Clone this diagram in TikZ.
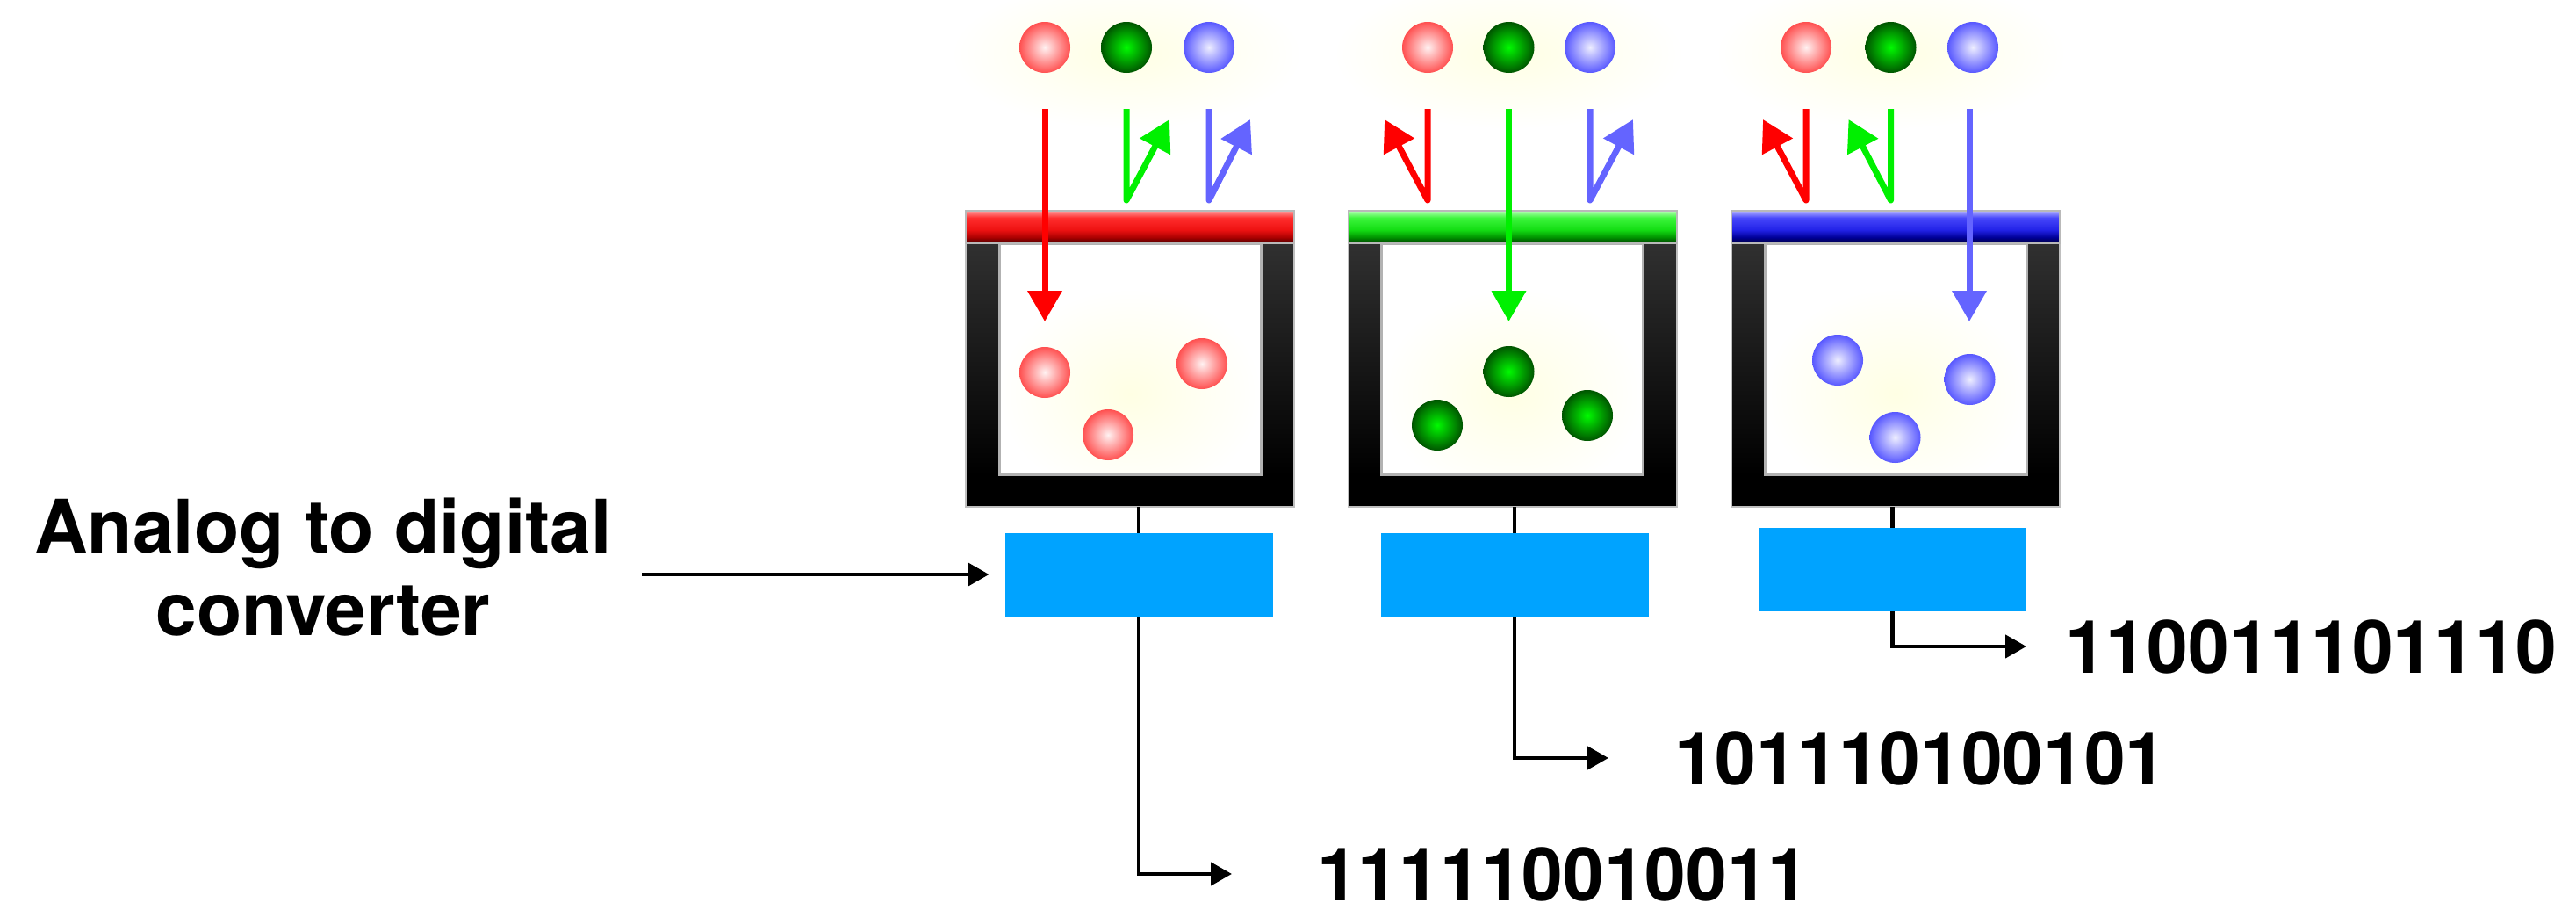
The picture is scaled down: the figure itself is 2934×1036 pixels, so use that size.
\documentclass[tikz,border=0pt]{standalone}
\usepackage{fontspec}
\setmainfont{TeX Gyre Heros}
\usetikzlibrary{arrows.meta,calc}

\definecolor{adcblue}{RGB}{0,163,255}
\definecolor{wallgray}{RGB}{48,48,48}
\definecolor{rayred}{RGB}{255,0,0}
\definecolor{raygreen}{RGB}{0,240,0}
\definecolor{rayblue}{RGB}{100,100,255}
\definecolor{glow}{RGB}{255,255,228}

% filter bars: dark lower edge, bright body, light upper edge
\definecolor{ra}{RGB}{70,0,0}\definecolor{rb}{RGB}{170,0,0}\definecolor{rc}{RGB}{238,18,18}
\definecolor{rd}{RGB}{255,45,45}\definecolor{re}{RGB}{255,150,150}
\definecolor{ga}{RGB}{0,60,0}\definecolor{gb}{RGB}{0,145,0}\definecolor{gc}{RGB}{20,222,20}
\definecolor{gd}{RGB}{60,245,60}\definecolor{ge}{RGB}{175,255,175}
\definecolor{ba}{RGB}{0,0,60}\definecolor{bb}{RGB}{0,0,150}\definecolor{bc}{RGB}{35,35,232}
\definecolor{bd}{RGB}{70,70,250}\definecolor{be}{RGB}{175,175,255}
\pgfdeclareverticalshading{barred}{100bp}{color(0bp)=(ra); color(25bp)=(ra); color(34bp)=(rb);
  color(46bp)=(rc); color(64bp)=(rd); color(75bp)=(re); color(100bp)=(re)}
\pgfdeclareverticalshading{bargreen}{100bp}{color(0bp)=(ga); color(25bp)=(ga); color(34bp)=(gb);
  color(46bp)=(gc); color(64bp)=(gd); color(75bp)=(ge); color(100bp)=(ge)}
\pgfdeclareverticalshading{barblue}{100bp}{color(0bp)=(ba); color(25bp)=(ba); color(34bp)=(bb);
  color(46bp)=(bc); color(64bp)=(bd); color(75bp)=(be); color(100bp)=(be)}

% one sensor well: name, centre x, filter shading
\newcommand\vessel[3]{%
  \node[wellbox] (#1) at (#2,408.5) {};
  \fill[black] ($(#1.north west)+(0,37)$) rectangle (#1.south east);
  \shade[top color=wallgray, bottom color=black]
    ($(#1.north west)+(0,37)$) rectangle ($(#1.south west)+(38,-37)$);
  \shade[top color=wallgray, bottom color=black]
    ($(#1.north east)+(-38,37)$) rectangle ($(#1.south east)+(0,-37)$);
  \draw[gray!50, line width=2pt] ($(#1.north west)+(0,37)$) rectangle (#1.south east);
  \fill[white] ($(#1.north west)+(38,37)$) rectangle ($(#1.south east)+(-38,-37)$);
  \begin{scope}
    \clip ($(#1.north west)+(38,37)$) rectangle ($(#1.south east)+(-38,-37)$);
    \shade[inner color=glow, outer color=white] ($(#1.center)+(0,40)$) ellipse [x radius=150, y radius=120];
  \end{scope}
  \draw[gray!60, line width=3pt] ($(#1.north west)+(38,37)$) rectangle ($(#1.south east)+(-38,-37)$);
  \shadedraw[shading=#3, draw=gray!55, line width=2pt]
    (#1.north west) rectangle ($(#1.north east)+(0,37)$);
}

\begin{document}
\begin{tikzpicture}[x=1pt, y=-1pt,
  wellbox/.style={minimum width=374pt, minimum height=337pt, inner sep=0pt, outer sep=0pt},
  adc/.style={fill=adcblue, minimum width=305pt, minimum height=95pt, inner sep=0pt, outer sep=0pt},
  wire/.style={line width=4.5pt},
  conn/.style={wire, -{Triangle[length=24pt, width=26pt]}},
  ray/.style={line width=7pt, line join=round, -{Triangle[length=35pt, width=38pt]}},
  bigtext/.style={font=\fontsize{84}{94}\selectfont\bfseries, inner sep=0pt},
  bits/.style={bigtext, anchor=base west},
  ball/.style={circle, minimum size=58pt, inner sep=0pt},
  rball/.style={ball, inner color={rgb,255:red,255;green,242;blue,242}, outer color={rgb,255:red,255;green,80;blue,80}},
  gball/.style={ball, inner color={rgb,255:red,0;green,250;blue,0}, outer color={rgb,255:red,0;green,85;blue,0}},
  bball/.style={ball, inner color={rgb,255:red,238;green,238;blue,255}, outer color={rgb,255:red,88;green,88;blue,255}},
]
\useasboundingbox (0,0) rectangle (2934,1036);

% ---- soft glow behind the incoming light
\shade[inner color=glow, outer color=white] (1283,62) ellipse [x radius=200, y radius=85];
\shade[inner color=glow, outer color=white] (1718.5,62) ellipse [x radius=200, y radius=85];
\shade[inner color=glow, outer color=white] (2153.5,62) ellipse [x radius=200, y radius=85];

% ---- the three wells with their colour filters
\vessel{well1}{1287}{barred}
\vessel{well2}{1722.5}{bargreen}
\vessel{well3}{2159}{barblue}

% ---- incoming light above each well
\node[rball] (a1) at (1190,54) {};
\node[gball] (a2) at (1283,54) {};
\node[bball] (a3) at (1377,54) {};
\node[rball] (b1) at (1626,54) {};
\node[gball] (b2) at (1718.5,54) {};
\node[bball] (b3) at (1811,54) {};
\node[rball] (c1) at (2057,54) {};
\node[gball] (c2) at (2153.5,54) {};
\node[bball] (c3) at (2247,54) {};

% ---- photons collected inside each well
\node[rball] (p1) at (1190,424) {};
\node[rball] (p2) at (1262,495) {};
\node[rball] (p3) at (1369,414) {};
\node[gball] (q1) at (1718.5,423) {};
\node[gball] (q2) at (1637,484) {};
\node[gball] (q3) at (1808,473) {};
\node[bball] (s1) at (2093,410) {};
\node[bball] (s2) at (2158.5,498) {};
\node[bball] (s3) at (2243.5,432) {};

% ---- light passing through or bouncing off each filter
\draw[ray, rayred]   (1190,124) -- (1190,366);
\draw[ray, raygreen] (1283,124) -- (1283,228) -- (1332,136);
\draw[ray, rayblue]  (1377,124) -- (1377,228) -- (1424,136);

\draw[ray, rayred]   (1626,124) -- (1626,228) -- (1577,136);
\draw[ray, raygreen] (1718.5,124) -- (1718.5,366);
\draw[ray, rayblue]  (1811,124) -- (1811,228) -- (1860,136);

\draw[ray, rayred]   (2057,124) -- (2057,228) -- (2008,136);
\draw[ray, raygreen] (2153.5,124) -- (2153.5,228) -- (2105.5,136);
\draw[ray, rayblue]  (2243,124) -- (2243,366);

% ---- converters and digital outputs
\node[adc] (adc1) at (1297,654) {};
\node[adc] (adc2) at (1725,654.5) {};
\node[adc] (adc3) at (2155.5,648.5) {};

\node[bits] (out1) at (1500,1025) {111110010011};
\node[bits] (out2) at (1907,893) {101110100101};
\node[bits] (out3) at (2352,766) {110011101110};

\draw[wire] (well1.south -| adc1.north) -- (adc1.north);
\draw[wire] (well2.south -| adc2.north) -- (adc2.north);
\draw[wire] (well3.south -| adc3.north) -- (adc3.north);

\draw[conn] (adc1.south) |- ([xshift=-97pt]out1.west);
\draw[conn] (adc2.south) |- ([xshift=-75pt]out2.west);
\draw[conn] (adc3.south) |- ([xshift=-44pt]out3.west);

\node[bigtext, align=center] (lbl) at (368,646) {Analog to digital\\converter};
\draw[conn] ([xshift=34pt]lbl.east |- adc1.west) -- ([xshift=-18pt]adc1.west);
\end{tikzpicture}
\end{document}
